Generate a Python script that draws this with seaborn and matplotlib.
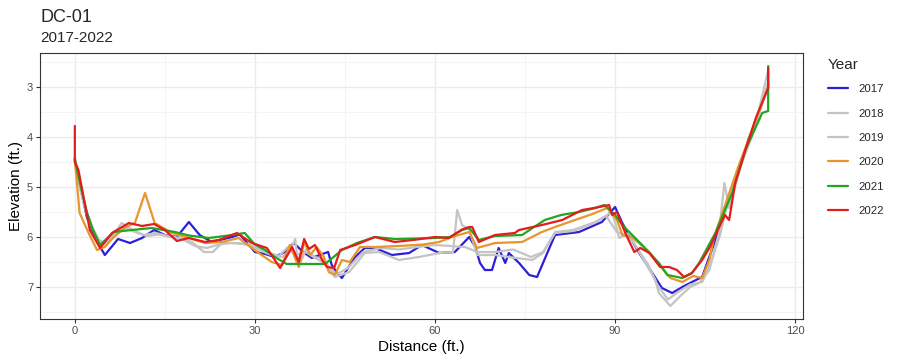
import matplotlib
matplotlib.use("Agg")
import matplotlib.pyplot as plt
import seaborn as sns
import pandas as pd
from matplotlib.ticker import MultipleLocator

years = ["2017", "2018", "2019", "2020", "2021", "2022"]

d2017 = [0, 1, 2, 3, 4, 5, 7.2, 9.2, 11.2, 13.2, 15, 17, 19, 20.8, 22.8, 26.2, 27.5, 30, 31.7,
         33.3, 35, 36.5, 38, 39.5, 41, 42.2, 42.8, 43.7, 44.5, 45.3, 46.7, 48.3, 50, 52.8, 55.7,
         57.8, 60.7, 63.3, 65.7, 66.7, 67.5, 68.3, 69.5, 70.6, 71.7, 72.3, 74, 75.7, 77, 78.7,
         80, 84, 87.8, 90, 91.2, 94, 96.2, 97.8, 99.5, 101.2, 102.8, 104.5, 106.7, 107.8,
         110, 112.2, 114, 115.5]
e2017 = [4.45, 5.05, 5.6, 5.9, 6.15, 6.36, 6.04, 6.12, 6.02, 5.86, 5.96, 6.0, 5.7, 5.96, 6.1,
         6.0, 5.95, 6.3, 6.34, 6.4, 6.3, 6.12, 6.3, 6.42, 6.35, 6.3, 6.56, 6.72, 6.82, 6.66,
         6.4, 6.22, 6.22, 6.36, 6.32, 6.16, 6.32, 6.3, 6.0, 6.2, 6.52, 6.66, 6.66, 6.22, 6.52,
         6.32, 6.52, 6.76, 6.8, 6.32, 5.96, 5.9, 5.7, 5.4, 5.72, 6.32, 6.72, 7.02, 7.12, 7.0,
         6.9, 6.8, 6.06, 5.65, 4.9, 4.06, 3.5, 2.95]

d2018 = [0, 1, 2, 3, 4, 5, 6.5, 7.8, 9.5, 11.5, 13.5, 15.5, 17.5, 19.5, 21.5, 23, 24.5, 27,
         29, 30.5, 32.5, 34.5, 35.8, 36.7, 37.3, 38.5, 40, 41.5, 43.3, 45.7, 48.3, 50.7, 54,
         57.3, 60.8, 63, 63.7, 64.5, 65.7, 67, 70, 72.3, 76.2, 78, 80, 83, 86.7, 88.7, 89.5,
         90.7, 92.3, 94, 96.7, 97.3, 99.2, 100.7, 102.5, 104, 105.7, 107.3, 108.2, 109,
         111.7, 113.5, 115.5]
e2018 = [4.4, 5.1, 5.55, 5.85, 6.1, 6.15, 5.95, 5.72, 5.85, 5.96, 5.92, 5.98, 6.02, 6.1, 6.3,
         6.3, 6.12, 6.12, 6.14, 6.25, 6.35, 6.4, 6.3, 6.04, 6.6, 6.25, 6.4, 6.45, 6.8, 6.7,
         6.32, 6.3, 6.46, 6.4, 6.32, 6.3, 5.46, 5.76, 5.85, 6.36, 6.36, 6.4, 6.46, 6.32, 5.9,
         5.86, 5.7, 5.56, 5.5, 6.02, 5.92, 6.3, 6.86, 7.12, 7.38, 7.2, 7.0, 6.92, 6.66, 5.92,
         4.92, 5.42, 4.26, 3.7, 2.66]

d2019 = [0, 1, 2, 3, 4, 5, 6.5, 8, 10, 12, 14, 16, 18, 20, 22, 24, 26, 28, 30, 32, 34, 35.5,
         37, 38.5, 40, 42, 43.5, 45.5, 48, 51, 54, 57, 60, 62.5, 65, 67, 70, 73, 76, 78, 80,
         83, 86.5, 88.5, 90.3, 91.5, 93, 95.5, 97, 98.8, 100.5, 102.5, 104.5, 106, 107.5,
         109, 111.5, 113.5, 115.5]
e2019 = [4.42, 5.08, 5.52, 5.82, 6.05, 6.12, 6.0, 5.8, 5.9, 5.98, 5.95, 6.0, 6.05, 6.18, 6.22,
         6.15, 6.12, 6.14, 6.2, 6.3, 6.38, 6.2, 6.35, 6.3, 6.42, 6.55, 6.75, 6.62, 6.3, 6.22,
         6.25, 6.2, 6.16, 6.18, 6.2, 6.3, 6.3, 6.25, 6.4, 6.3, 5.92, 5.88, 5.72, 5.58, 5.9,
         5.95, 6.1, 6.55, 6.95, 7.25, 7.1, 6.95, 6.9, 6.5, 5.95, 5.2, 4.4, 3.75, 2.9]

d2020 = [0, 0.8, 2.3, 3.7, 5, 6.5, 8.5, 10, 11.7, 13.3, 16.2, 19, 21.7, 24.5, 27.3, 29.5, 31,
         32.8, 34.5, 35.8, 37.3, 38.2, 39.2, 40.3, 41.5, 42.3, 43.3, 44.5, 45.8, 47.5, 50, 54,
         58, 60.7, 62.8, 65.7, 67, 70, 74.5, 77.8, 80, 83.3, 86, 88.7, 90.3, 91.2, 92.8, 95.7,
         97.8, 99.2, 101.2, 103, 104.5, 105.7, 106.5, 108.5, 110.5, 113, 115.5]
e2020 = [4.45, 5.52, 5.92, 6.26, 6.2, 6.0, 5.8, 5.72, 5.12, 5.72, 5.92, 6.02, 6.12, 6.1, 6.02,
         6.22, 6.35, 6.5, 6.56, 6.16, 6.6, 6.1, 6.36, 6.2, 6.4, 6.7, 6.76, 6.46, 6.5, 6.2, 6.2,
         6.18, 6.15, 6.1, 6.0, 5.9, 6.22, 6.12, 6.1, 5.9, 5.8, 5.66, 5.55, 5.42, 5.66, 5.96,
         6.0, 6.3, 6.62, 6.82, 6.9, 6.78, 6.82, 6.46, 6.0, 5.3, 4.6, 3.8, 3.0]

d2021 = [0, 1, 2, 3, 4.2, 6.5, 9.5, 12.8, 16.7, 19, 22.3, 25, 28.3, 30, 31.7, 33.3, 35.3, 41.7,
         44.5, 47, 50, 53.3, 57, 60, 62.5, 64.5, 65.7, 67.3, 70, 74.5, 76.5, 78.3, 81, 84,
         86.7, 88.2, 90, 91.2, 94.5, 97.3, 98.7, 101.2, 102.8, 104, 106.7, 109.5, 111.7,
         114.5, 115.5, 115.5]
e2021 = [4.45, 5.0, 5.5, 5.85, 6.16, 5.9, 5.86, 5.82, 5.9, 5.97, 6.02, 5.98, 5.92, 6.15, 6.26,
         6.4, 6.54, 6.54, 6.26, 6.12, 6.0, 6.04, 6.03, 6.02, 6.0, 5.86, 5.82, 6.06, 5.98, 5.96,
         5.8, 5.66, 5.56, 5.5, 5.42, 5.36, 5.56, 5.76, 6.16, 6.52, 6.76, 6.82, 6.72, 6.52,
         5.92, 5.12, 4.26, 3.52, 3.48, 2.58]

d2022 = [0, 0, 0.6, 1.3, 2.5, 4.2, 6.2, 9, 11.2, 13.2, 15, 17, 19, 21.7, 24, 27, 29.5, 32,
         34.2, 36.2, 37.3, 38.2, 39, 40, 41.2, 42, 43.2, 44.2, 46.7, 50, 53.3, 57, 60, 62.3,
         64.5, 65.7, 66.2, 67.3, 70, 73.3, 74, 77.8, 81.2, 84.5, 86.5, 89, 89.5, 90.3, 91.7,
         93.2, 94.2, 95.7, 97.5, 99, 100.3, 101.5, 102.8, 104.5, 105.8, 107.5, 108.3, 109,
         110, 111.7, 113.5, 115.5, 115.5]
e2022 = [3.78, 4.5, 4.66, 5.1, 5.86, 6.22, 5.92, 5.72, 5.78, 5.74, 5.86, 6.08, 6.02, 6.1, 6.06,
         5.92, 6.12, 6.22, 6.62, 6.2, 6.5, 6.04, 6.24, 6.16, 6.46, 6.6, 6.62, 6.26, 6.16, 6.0,
         6.1, 6.05, 6.0, 6.02, 5.85, 5.8, 5.8, 6.1, 5.96, 5.92, 5.86, 5.76, 5.66, 5.46, 5.42,
         5.36, 5.56, 5.5, 5.92, 6.3, 6.22, 6.32, 6.6, 6.6, 6.66, 6.8, 6.72, 6.46, 6.2, 5.76,
         5.56, 5.66, 4.92, 4.26, 3.6, 3.02, 2.62]

dist = [d2017, d2018, d2019, d2020, d2021, d2022]
elev = [e2017, e2018, e2019, e2020, e2021, e2022]
colors = ["#2D1FD8", "#C4C4C4", "#C4C4C4", "#E8952B", "#21A621", "#E41C1C"]

frames = [pd.DataFrame({"Distance": dd, "Elevation": ee, "Year": y})
          for dd, ee, y in zip(dist, elev, years)]
df = pd.concat(frames, ignore_index=True)

sns.set_theme(style="white")
plt.rcParams["font.family"] = ["Liberation Sans", "DejaVu Sans"]

fig = plt.figure(figsize=(9, 3.63), dpi=100)
ax = fig.add_axes([40 / 900, 1 - 319 / 363, (803 - 40) / 900, (319 - 53) / 363])

sns.lineplot(data=df, x="Distance", y="Elevation", hue="Year", hue_order=years,
             palette=dict(zip(years, colors)), estimator=None, sort=False,
             linewidth=1.6, ax=ax, legend=True)

ax.set_xlim(-5.8, 121.3)
ax.set_ylim(7.64, 2.32)
ax.xaxis.set_major_locator(MultipleLocator(30))
ax.xaxis.set_minor_locator(MultipleLocator(15))
ax.yaxis.set_major_locator(MultipleLocator(1))
ax.yaxis.set_minor_locator(MultipleLocator(0.5))
ax.grid(which="major", color="#EBEBEB", linewidth=1.0)
ax.grid(which="minor", color="#F3F3F3", linewidth=0.6)
ax.set_axisbelow(True)
for s in ax.spines.values():
    s.set_color("#333333")
    s.set_linewidth(0.8)
ax.tick_params(which="major", length=3, width=0.8, color="#333333",
               labelsize=8, labelcolor="#4D4D4D", pad=2, bottom=True, left=True)
ax.tick_params(which="minor", length=0)

ax.set_xlabel("Distance (ft.)", fontsize=11, color="black", labelpad=3)
ax.set_ylabel("Elevation (ft.)", fontsize=11, color="black", labelpad=3)

fig.text(40 / 900, 1 - 17 / 363, "DC-01", fontsize=13, va="center", ha="left")
fig.text(40 / 900, 1 - 38 / 363, "2017-2022", fontsize=11, va="center", ha="left")

ax.get_legend().remove()
handles, labels = ax.get_legend_handles_labels()
leg = fig.legend(handles, labels, title="Year", loc="upper left",
                 bbox_to_anchor=(823 / 900, 1 - 53 / 363), frameon=False,
                 fontsize=8.2, title_fontsize=11, handlelength=1.8,
                 labelspacing=1.27, handletextpad=0.9, borderaxespad=0)
leg._legend_box.align = "left"
leg._legend_box.sep = 9.0
for line in leg.get_lines():
    line.set_linewidth(1.6)

fig.savefig("out.png", dpi=100)
